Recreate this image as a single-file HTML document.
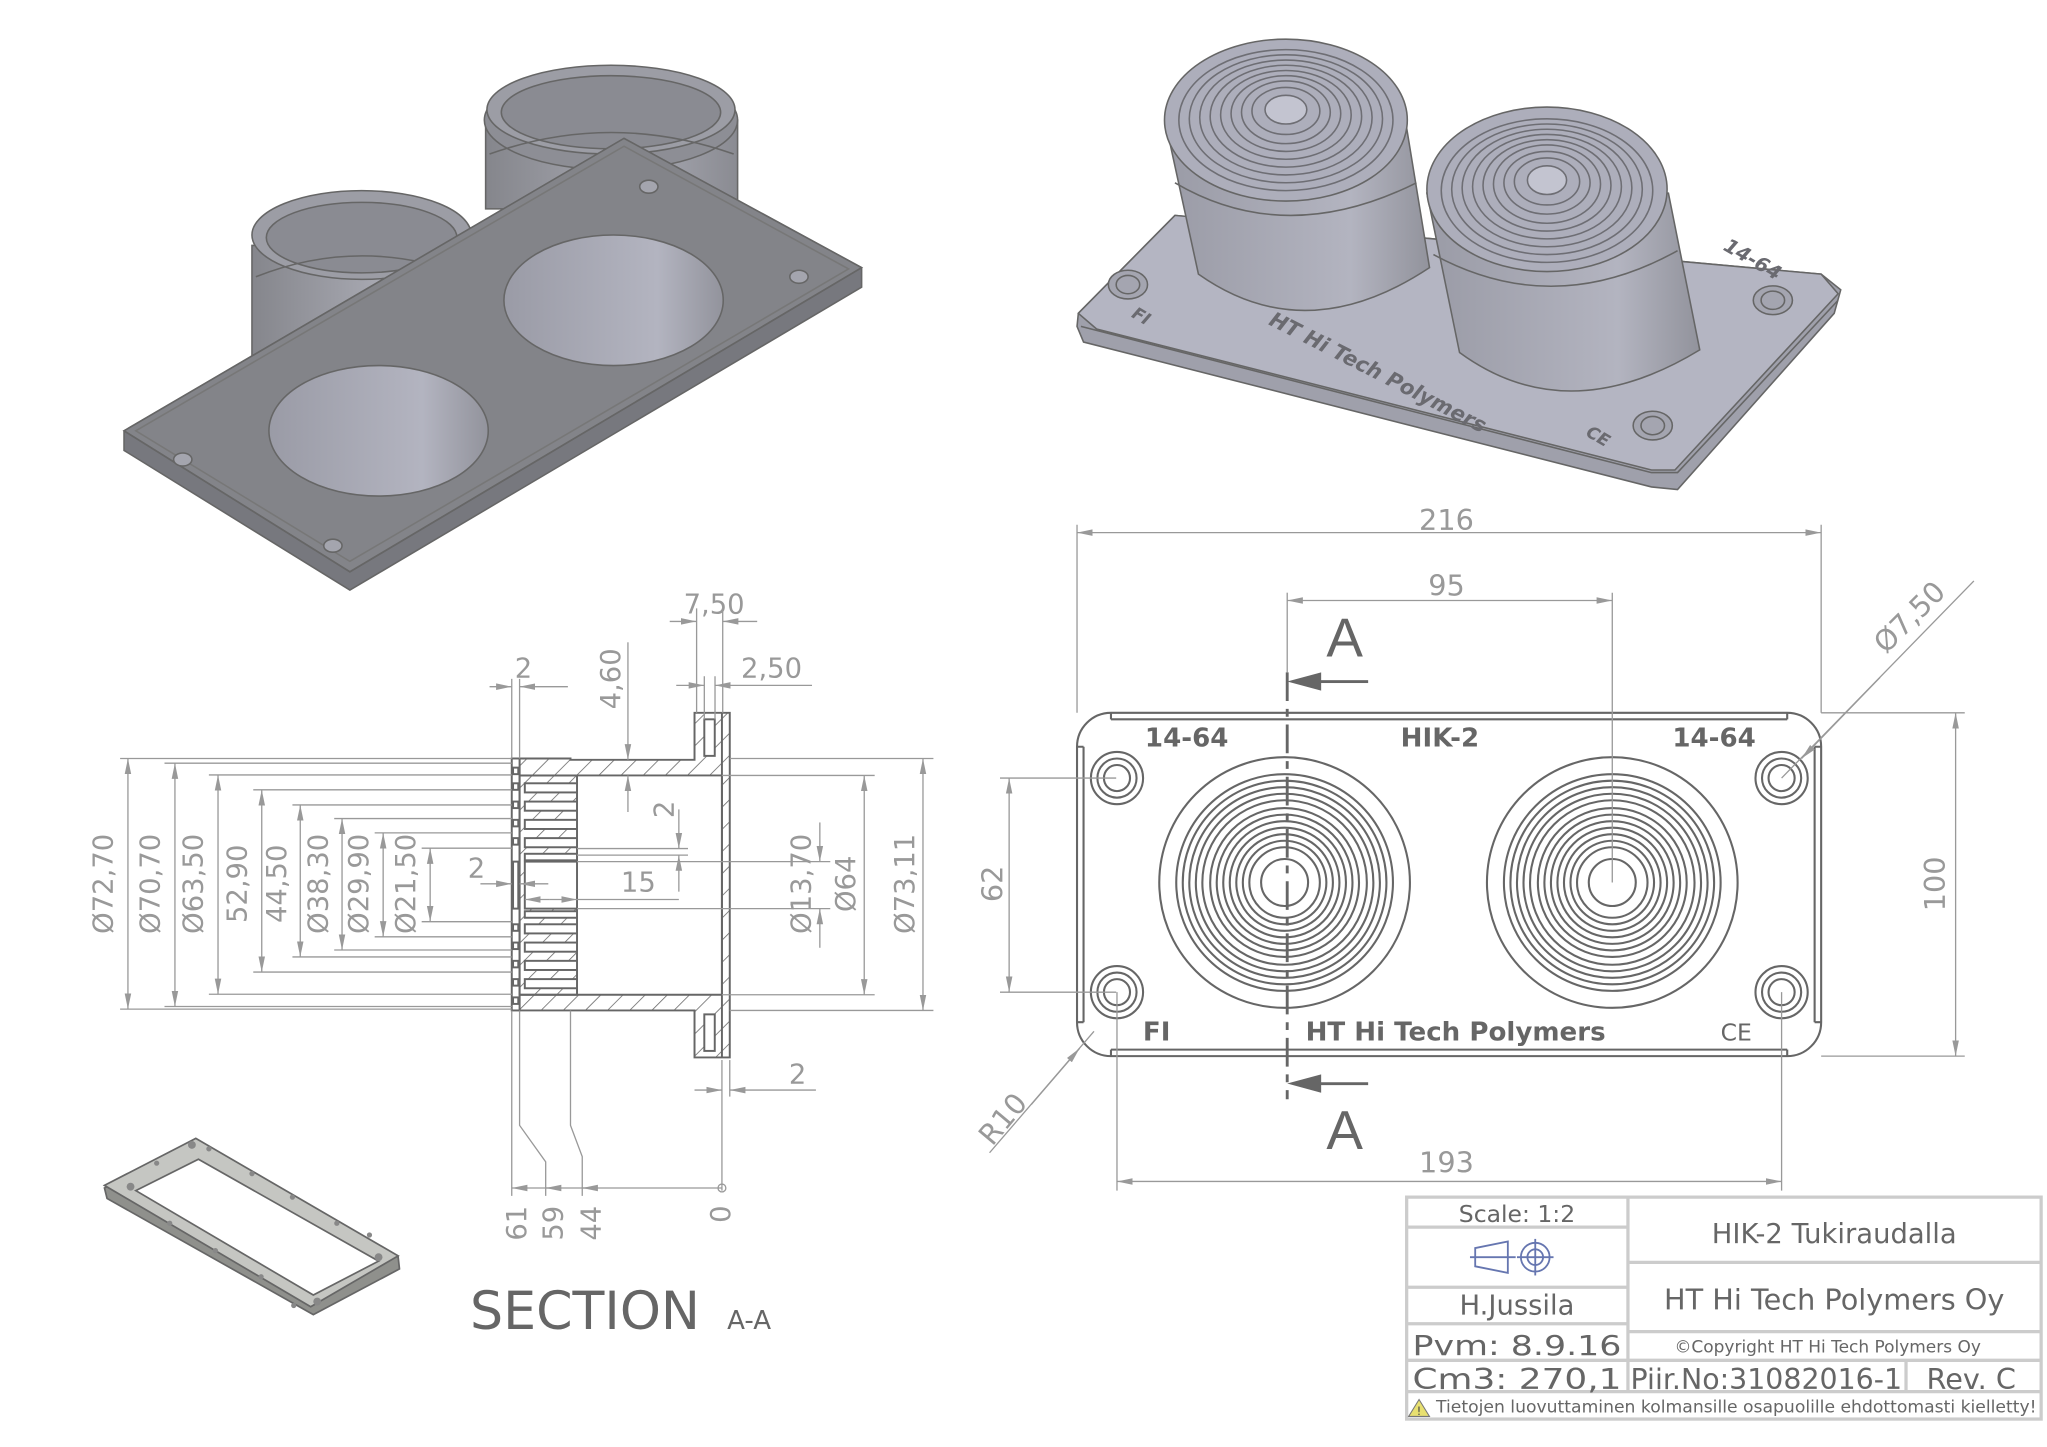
<!DOCTYPE html>
<html><head><meta charset="utf-8"><style>html,body{margin:0;padding:0;background:#fff}svg{display:block}</style></head>
<body>
<svg xmlns="http://www.w3.org/2000/svg" width="2047" height="1447" viewBox="0 0 1568 1108.4" font-family="'DejaVu Sans','Liberation Sans',sans-serif">
<defs>
<marker id="a" viewBox="0 0 12 6" refX="12" refY="3" markerWidth="12" markerHeight="6" markerUnits="userSpaceOnUse" orient="auto-start-reverse"><path d="M0,0.5 L12,3 L0,5.5z" fill="#999"/></marker>
<pattern id="h" width="12" height="12" patternUnits="userSpaceOnUse" patternTransform="rotate(45)"><line x1="0" y1="0" x2="0" y2="12" stroke="#666" stroke-width="1.2"/></pattern>
<linearGradient id="cyl" x1="0" x2="1"><stop offset="0" stop-color="#85868c"/><stop offset="0.6" stop-color="#a9aab3"/><stop offset="1" stop-color="#8a8b92"/></linearGradient>
<linearGradient id="cyl2" x1="0" x2="1"><stop offset="0" stop-color="#9a9ba6"/><stop offset="0.7" stop-color="#b3b4c0"/><stop offset="1" stop-color="#92939c"/></linearGradient>
</defs>

<!-- ========== Top-left 3D ========== -->
<g stroke="#666" stroke-width="1.2">
<path d="M372,92 L372,160 L565,160 L565,92 Z" fill="url(#cyl)"/>
<ellipse cx="468" cy="92" rx="97" ry="38" fill="#8d8e95"/>
<ellipse cx="468" cy="84" rx="95" ry="34" fill="#9c9da5"/>
<ellipse cx="468" cy="86" rx="84" ry="28" fill="#8a8b92"/>
<path d="M375,118 Q468,85 562,118" fill="none"/>
<path d="M193,188 L193,275 L362,275 L362,188 Z" fill="url(#cyl)"/>
<ellipse cx="277" cy="180" rx="84" ry="34" fill="#9c9da5"/>
<ellipse cx="277" cy="182" rx="73" ry="27" fill="#8a8b92"/>
<path d="M196,212 Q277,180 360,212" fill="none"/>
<path d="M95,330 L478,106 L660,205 L660,220 L268,452 L95,345 Z" fill="#77787e"/>
<path d="M95,330 L478,106 L660,205 L268,438 Z" fill="#838489"/>
<path d="M104,330 L478,112 L650,206 L268,430 Z" fill="none" stroke="#777"/>
<path d="M95,330 L268,438 L660,205" fill="none"/>
<ellipse cx="290" cy="330" rx="84" ry="50" fill="url(#cyl2)"/>
<ellipse cx="470" cy="230" rx="84" ry="50" fill="url(#cyl2)"/>
<ellipse cx="140" cy="352" rx="7" ry="5" fill="#a4a5ae"/>
<ellipse cx="255" cy="418" rx="7" ry="5" fill="#a4a5ae"/>
<ellipse cx="497" cy="143" rx="7" ry="5" fill="#a4a5ae"/>
<ellipse cx="612" cy="212" rx="7" ry="5" fill="#a4a5ae"/>
</g>

<!-- ========== Top-right 3D ========== -->
<g stroke="#666" stroke-width="1.2">
<path d="M826,240 L900,165 L1395,210 L1410,222 L1405,240 L1285,375 L1265,373 L830,262 L825,250 Z" fill="#9fa0ab"/>
<path d="M826,240 L900,165 L1395,210 L1408,225 L1283,360 L1265,360 L840,252 Z" fill="#b4b5c2"/>
<path d="M828,250 L1265,362 L1285,362 L1408,230" fill="none"/>
<path d="M893,95 L918,210 Q1000,268 1095,205 L1077,95 Z" fill="url(#cyl2)"/>
<path d="M900,140 Q985,190 1085,140" fill="none"/>
<ellipse cx="985" cy="92" rx="93" ry="62" fill="#adaebb"/>
<g fill="none" stroke="#6e6e74">
<ellipse cx="985" cy="92" rx="82" ry="54"/><ellipse cx="985" cy="91" rx="74" ry="49"/><ellipse cx="985" cy="90" rx="66" ry="44"/><ellipse cx="985" cy="89" rx="58" ry="39"/><ellipse cx="985" cy="88" rx="50" ry="34"/><ellipse cx="985" cy="87" rx="42" ry="29"/><ellipse cx="985" cy="86" rx="34" ry="24"/><ellipse cx="985" cy="85" rx="26" ry="18"/><ellipse cx="985" cy="84" rx="16" ry="11" fill="#c3c4d0"/>
</g>
<path d="M1093,148 L1118,270 Q1200,330 1302,268 L1278,148 Z" fill="url(#cyl2)"/>
<path d="M1098,195 Q1190,245 1285,192" fill="none"/>
<ellipse cx="1185" cy="145" rx="92" ry="63" fill="#adaebb"/>
<g fill="none" stroke="#6e6e74">
<ellipse cx="1185" cy="146" rx="81" ry="55"/><ellipse cx="1185" cy="145" rx="73" ry="50"/><ellipse cx="1185" cy="144" rx="65" ry="45"/><ellipse cx="1185" cy="143" rx="57" ry="40"/><ellipse cx="1185" cy="142" rx="49" ry="35"/><ellipse cx="1185" cy="141" rx="41" ry="30"/><ellipse cx="1185" cy="140" rx="33" ry="24"/><ellipse cx="1185" cy="139" rx="25" ry="18"/><ellipse cx="1185" cy="138" rx="15" ry="11" fill="#c3c4d0"/>
</g>
<g fill="#a4a5b0"><ellipse cx="864" cy="218" rx="15" ry="11"/><ellipse cx="1358" cy="230" rx="15" ry="11"/><ellipse cx="1266" cy="326" rx="15" ry="11"/></g>
<g fill="none"><ellipse cx="864" cy="218" rx="9" ry="7"/><ellipse cx="1358" cy="230" rx="9" ry="7"/><ellipse cx="1266" cy="326" rx="9" ry="7"/></g>
</g>
<g fill="#6a6a70" font-weight="bold" font-style="italic">
<text x="1053" y="290" font-size="16" transform="rotate(27 1053 290)" text-anchor="middle">HT Hi Tech Polymers</text>
<text x="1340" y="203" font-size="15" transform="rotate(30 1340 203)" text-anchor="middle">14-64</text>
<text x="872" y="246" font-size="13" transform="rotate(30 872 246)" text-anchor="middle">FI</text>
<text x="1222" y="338" font-size="13" transform="rotate(30 1222 338)" text-anchor="middle">CE</text>
</g>

<!-- ========== Front view ========== -->
<g stroke="#666" stroke-width="1.6" fill="none">
<rect x="825" y="546" width="570" height="263" rx="26"/>
<path d="M851,551 L1369,551 M851,804 L1369,804 M830,572 L830,783 M1390,572 L1390,783"/>
<path d="M851,546 L851,551 M1369,546 L1369,551 M851,804 L851,809 M1369,804 L1369,809 M825,572 L830,572 M825,783 L830,783 M1390,572 L1395,572 M1390,783 L1395,783"/>
<circle cx="855.6" cy="596" r="20"/><circle cx="855.6" cy="596" r="15"/><circle cx="855.6" cy="596" r="10"/>
<circle cx="855.6" cy="760" r="20"/><circle cx="855.6" cy="760" r="15"/><circle cx="855.6" cy="760" r="10"/>
<circle cx="1364.7" cy="596" r="20"/><circle cx="1364.7" cy="596" r="15"/><circle cx="1364.7" cy="596" r="10"/>
<circle cx="1364.7" cy="760" r="20"/><circle cx="1364.7" cy="760" r="15"/><circle cx="1364.7" cy="760" r="10"/>
<g>
<circle cx="984" cy="676" r="96"/><circle cx="984" cy="676" r="83"/><circle cx="984" cy="676" r="78"/><circle cx="984" cy="676" r="73"/><circle cx="984" cy="676" r="68"/><circle cx="984" cy="676" r="63"/><circle cx="984" cy="676" r="57"/><circle cx="984" cy="676" r="52"/><circle cx="984" cy="676" r="47"/><circle cx="984" cy="676" r="42"/><circle cx="984" cy="676" r="37"/><circle cx="984" cy="676" r="32"/><circle cx="984" cy="676" r="27"/><circle cx="984" cy="676" r="18"/>
</g>
<g transform="translate(251 0)">
<circle cx="984" cy="676" r="96"/><circle cx="984" cy="676" r="83"/><circle cx="984" cy="676" r="78"/><circle cx="984" cy="676" r="73"/><circle cx="984" cy="676" r="68"/><circle cx="984" cy="676" r="63"/><circle cx="984" cy="676" r="57"/><circle cx="984" cy="676" r="52"/><circle cx="984" cy="676" r="47"/><circle cx="984" cy="676" r="42"/><circle cx="984" cy="676" r="37"/><circle cx="984" cy="676" r="32"/><circle cx="984" cy="676" r="27"/><circle cx="984" cy="676" r="18"/>
</g>
<line x1="986" y1="515" x2="986" y2="842" stroke-width="2.2" stroke-dasharray="22,6,6,6"/>
</g>
<g fill="#666">
<path d="M986,522 L1012,515 L1012,529 Z"/><rect x="1010" y="521" width="38" height="2.2"/>
<path d="M986,830 L1012,823 L1012,837 Z"/><rect x="1010" y="829" width="38" height="2.2"/>
<text x="1030" y="503" font-size="42" text-anchor="middle" font-family="'Liberation Sans',sans-serif">A</text>
<text x="1030" y="880" font-size="42" text-anchor="middle" font-family="'Liberation Sans',sans-serif">A</text>
<g font-weight="bold" font-size="20" text-anchor="middle">
<text x="909" y="572">14-64</text><text x="1103" y="572">HIK-2</text><text x="1313" y="572">14-64</text>
<text x="886" y="797">FI</text><text x="1115" y="797">HT Hi Tech Polymers</text><text x="1330" y="797" font-weight="normal" font-size="18">CE</text>
</g>
</g>
<g stroke="#999" stroke-width="1" fill="none">
<line x1="825" y1="402" x2="825" y2="546"/><line x1="1395" y1="402" x2="1395" y2="546"/>
<line x1="825" y1="408" x2="1395" y2="408" marker-start="url(#a)" marker-end="url(#a)"/>
<line x1="986" y1="454" x2="986" y2="515"/><line x1="1235" y1="454" x2="1235" y2="676"/>
<line x1="986" y1="460" x2="1235" y2="460" marker-start="url(#a)" marker-end="url(#a)"/>
<line x1="1395" y1="546" x2="1505" y2="546"/><line x1="1395" y1="809" x2="1505" y2="809"/>
<line x1="1498" y1="546" x2="1498" y2="809" marker-start="url(#a)" marker-end="url(#a)"/>
<line x1="766" y1="596" x2="855" y2="596"/><line x1="766" y1="760" x2="855" y2="760"/>
<line x1="773" y1="596" x2="773" y2="760" marker-start="url(#a)" marker-end="url(#a)"/>
<line x1="855.6" y1="760" x2="855.6" y2="912"/><line x1="1364.7" y1="760" x2="1364.7" y2="912"/>
<line x1="855.6" y1="905" x2="1364.7" y2="905" marker-start="url(#a)" marker-end="url(#a)"/>
<line x1="1512" y1="445" x2="1364.7" y2="596"/>
<line x1="1440" y1="519" x2="1380" y2="581" marker-end="url(#a)"/>
<line x1="758" y1="883" x2="838" y2="790"/>
<line x1="790" y1="846" x2="827" y2="803" marker-end="url(#a)"/>
</g>
<g fill="#999" font-size="22" text-anchor="middle">
<text x="1108" y="406">216</text><text x="1108" y="456">95</text><text x="1108" y="898">193</text>
<text x="1490" y="677" transform="rotate(-90 1490 677)">100</text>
<text x="768" y="677" transform="rotate(-90 768 677)">62</text>
<text x="1468" y="478" transform="rotate(-45 1468 478)">Ø7,50</text>
<text x="774" y="862" transform="rotate(-50 774 862)">R10</text>
</g>

<!-- ========== Section ========== -->
<g stroke="#666" stroke-width="1.5">
<path d="M398,581 L437,581 L437,582 L532,582 L532,546 L559,546 L559,810 L532,810 L532,774 L437,774 L437,774 L398,774 L398,762 L553,762 L553,594 L398,594 Z" fill="url(#h)"/>
<rect x="392" y="581" width="6" height="193" fill="#fff"/>
<rect x="539.5" y="551" width="8" height="28" fill="#fff"/>
<rect x="539.5" y="777" width="8" height="28" fill="#fff"/>
<line x1="553" y1="546" x2="553" y2="810"/>
<rect x="398" y="594" width="44" height="168" fill="url(#h)"/>
<g fill="#fff">
<rect x="402" y="600" width="40" height="7"/><rect x="402" y="614" width="40" height="7"/><rect x="402" y="628" width="40" height="7"/><rect x="402" y="642" width="40" height="7"/><rect x="402" y="654" width="40" height="5"/>
<rect x="402" y="660" width="40" height="36"/>
<rect x="402" y="698" width="40" height="5"/><rect x="402" y="708" width="40" height="7"/><rect x="402" y="722" width="40" height="7"/><rect x="402" y="736" width="40" height="7"/><rect x="402" y="750" width="40" height="7"/>
</g>
<g fill="#fff">
<rect x="393" y="588" width="4" height="5"/><rect x="393" y="600" width="4" height="5"/><rect x="393" y="614" width="4" height="5"/><rect x="393" y="628" width="4" height="5"/><rect x="393" y="642" width="4" height="5"/>
<rect x="393" y="660" width="4" height="36"/>
<rect x="393" y="708" width="4" height="5"/><rect x="393" y="722" width="4" height="5"/><rect x="393" y="736" width="4" height="5"/><rect x="393" y="750" width="4" height="5"/><rect x="393" y="764" width="4" height="5"/>
</g>
</g>
<g stroke="#999" stroke-width="1" fill="none">
<line x1="92" y1="581" x2="392" y2="581"/><line x1="92" y1="773" x2="392" y2="773"/>
<line x1="126" y1="584.6" x2="392" y2="584.6"/><line x1="126" y1="771" x2="392" y2="771"/>
<line x1="160" y1="593.6" x2="392" y2="593.6"/><line x1="160" y1="761.6" x2="392" y2="761.6"/>
<line x1="194" y1="605" x2="392" y2="605"/><line x1="194" y1="744.6" x2="392" y2="744.6"/>
<line x1="224" y1="616.6" x2="392" y2="616.6"/><line x1="224" y1="733" x2="392" y2="733"/>
<line x1="256" y1="627" x2="392" y2="627"/><line x1="256" y1="727.7" x2="392" y2="727.7"/>
<line x1="287" y1="638" x2="392" y2="638"/><line x1="287" y1="717.6" x2="392" y2="717.6"/>
<line x1="323" y1="649.7" x2="392" y2="649.7"/><line x1="323" y1="706" x2="392" y2="706"/>
<line x1="98" y1="581" x2="98" y2="773" marker-start="url(#a)" marker-end="url(#a)"/>
<line x1="134" y1="584.6" x2="134" y2="771" marker-start="url(#a)" marker-end="url(#a)"/>
<line x1="167" y1="593.6" x2="167" y2="761.6" marker-start="url(#a)" marker-end="url(#a)"/>
<line x1="200.5" y1="605" x2="200.5" y2="744.6" marker-start="url(#a)" marker-end="url(#a)"/>
<line x1="230" y1="616.6" x2="230" y2="733" marker-start="url(#a)" marker-end="url(#a)"/>
<line x1="262" y1="627" x2="262" y2="727.7" marker-start="url(#a)" marker-end="url(#a)"/>
<line x1="293.5" y1="638" x2="293.5" y2="717.6" marker-start="url(#a)" marker-end="url(#a)"/>
<line x1="329.5" y1="649.7" x2="329.5" y2="706" marker-start="url(#a)" marker-end="url(#a)"/>
<line x1="559" y1="581" x2="715" y2="581"/><line x1="559" y1="774" x2="715" y2="774"/>
<line x1="553" y1="594" x2="670" y2="594"/><line x1="553" y1="762" x2="670" y2="762"/>
<line x1="442" y1="660" x2="636" y2="660"/><line x1="442" y1="696" x2="636" y2="696"/>
<line x1="707" y1="581" x2="707" y2="774" marker-start="url(#a)" marker-end="url(#a)"/>
<line x1="662" y1="594" x2="662" y2="762" marker-start="url(#a)" marker-end="url(#a)"/>
<line x1="628" y1="630" x2="628" y2="660" marker-end="url(#a)"/>
<line x1="628" y1="726" x2="628" y2="696" marker-end="url(#a)"/>
<line x1="533.6" y1="466" x2="533.6" y2="546"/><line x1="553.6" y1="466" x2="553.6" y2="546"/>
<line x1="513" y1="476" x2="533.6" y2="476" marker-end="url(#a)"/><line x1="580" y1="476" x2="553.6" y2="476" marker-end="url(#a)"/>
<line x1="539.5" y1="518" x2="539.5" y2="551"/><line x1="547.7" y1="518" x2="547.7" y2="551"/>
<line x1="518" y1="525" x2="539.5" y2="525" marker-end="url(#a)"/><line x1="622" y1="525" x2="547.7" y2="525" marker-end="url(#a)"/>
<line x1="481" y1="492" x2="481" y2="582" marker-end="url(#a)"/><line x1="481" y1="622" x2="481" y2="594" marker-end="url(#a)"/>
<line x1="392" y1="520" x2="392" y2="581"/><line x1="398" y1="520" x2="398" y2="581"/>
<line x1="375" y1="526" x2="392" y2="526" marker-end="url(#a)"/><line x1="435" y1="526" x2="398" y2="526" marker-end="url(#a)"/>
<line x1="442" y1="650" x2="527" y2="650"/><line x1="442" y1="655" x2="527" y2="655"/>
<line x1="520" y1="620" x2="520" y2="650" marker-end="url(#a)"/><line x1="520" y1="683" x2="520" y2="655" marker-end="url(#a)"/>
<line x1="368" y1="677" x2="392" y2="677" marker-end="url(#a)"/><line x1="420" y1="677" x2="398" y2="677" marker-end="url(#a)"/>
<line x1="421" y1="689" x2="402" y2="689" marker-end="url(#a)"/><line x1="421" y1="689" x2="442" y2="689" marker-end="url(#a)"/><line x1="442" y1="689" x2="520" y2="689"/>
<line x1="553" y1="812" x2="553" y2="912"/><line x1="559" y1="812" x2="559" y2="840"/>
<line x1="532" y1="835" x2="553" y2="835" marker-end="url(#a)"/><line x1="625" y1="835" x2="559" y2="835" marker-end="url(#a)"/>
<line x1="392" y1="774" x2="392" y2="916"/>
<polyline points="398,774 398,862 418,890 418,916"/>
<polyline points="437,774 437,862 446,886 446,916"/>
<line x1="553" y1="910" x2="392" y2="910" marker-end="url(#a)"/>
<line x1="430" y1="910" x2="418" y2="910" marker-end="url(#a)"/>
<line x1="458" y1="910" x2="446" y2="910" marker-end="url(#a)"/>
<circle cx="553" cy="910" r="3"/>
</g>
<g fill="#999" font-size="21" text-anchor="middle">
<text x="86" y="677" transform="rotate(-90 86 677)">Ø72,70</text>
<text x="122" y="677" transform="rotate(-90 122 677)">Ø70,70</text>
<text x="155" y="677" transform="rotate(-90 155 677)">Ø63,50</text>
<text x="189" y="677" transform="rotate(-90 189 677)">52,90</text>
<text x="219" y="677" transform="rotate(-90 219 677)">44,50</text>
<text x="251" y="677" transform="rotate(-90 251 677)">Ø38,30</text>
<text x="282" y="677" transform="rotate(-90 282 677)">Ø29,90</text>
<text x="318" y="677" transform="rotate(-90 318 677)">Ø21,50</text>
<text x="621" y="677" transform="rotate(-90 621 677)">Ø13,70</text>
<text x="655" y="677" transform="rotate(-90 655 677)">Ø64</text>
<text x="700" y="677" transform="rotate(-90 700 677)">Ø73,11</text>
<text x="547" y="470">7,50</text>
<text x="591" y="519">2,50</text>
<text x="475" y="520" transform="rotate(-90 475 520)">4,60</text>
<text x="401" y="519">2</text>
<text x="516" y="620" transform="rotate(-90 516 620)">2</text>
<text x="365" y="672">2</text>
<text x="489" y="683">15</text>
<text x="611" y="830">2</text>
<text x="403" y="937" transform="rotate(-90 403 937)">61</text>
<text x="431" y="937" transform="rotate(-90 431 937)">59</text>
<text x="460" y="937" transform="rotate(-90 460 937)">44</text>
<text x="559" y="930" transform="rotate(-90 559 930)">0</text>
</g>
<text x="360" y="1018" font-size="40" fill="#666">SECTION</text>
<text x="557" y="1018" font-size="20" fill="#666">A-A</text>

<!-- ========== Gasket ========== -->
<g stroke="#666" stroke-width="1.3">
<path d="M80,910 L150,874 L305,963 L306,972 L240,1007 L82,918 Z" fill="#8f908c"/>
<path d="M80,908 L150,872 L305,962 L238,1001 Z" fill="#c5c6c2"/>
<path d="M104,912 L152,888 L290,966 L240,992 Z" fill="#fff"/>
<g fill="#888" stroke="none">
<circle cx="100" cy="909" r="3"/><circle cx="147" cy="877" r="3"/><circle cx="290" cy="963" r="3"/><circle cx="243" cy="997" r="3"/>
<circle cx="160" cy="880" r="2"/><circle cx="193" cy="899" r="2"/><circle cx="224" cy="917" r="2"/><circle cx="258" cy="937" r="2"/>
<circle cx="130" cy="937" r="2"/><circle cx="165" cy="958" r="2"/><circle cx="200" cy="978" r="2"/><circle cx="120" cy="891" r="2"/><circle cx="283" cy="946" r="2"/><circle cx="225" cy="1000" r="2"/>
</g>
</g>

<!-- ========== Title block ========== -->
<g stroke="#ccc" stroke-width="2.5" fill="none">
<rect x="1077.5" y="917" width="486" height="170"/>
<line x1="1247" y1="917" x2="1247" y2="1067"/>
<line x1="1077.5" y1="940" x2="1247" y2="940"/>
<line x1="1077.5" y1="986" x2="1247" y2="986"/>
<line x1="1077.5" y1="1014" x2="1247" y2="1014"/>
<line x1="1077.5" y1="1042" x2="1563.5" y2="1042"/>
<line x1="1077.5" y1="1066" x2="1563.5" y2="1066"/>
<line x1="1247" y1="967" x2="1563.5" y2="967"/>
<line x1="1247" y1="1020" x2="1563.5" y2="1020"/>
<line x1="1460" y1="1042" x2="1460" y2="1066"/>
</g>
<g stroke="#6676b0" stroke-width="1.4" fill="none">
<path d="M1130,956 L1155,951 L1155,975 L1130,970 Z"/>
<line x1="1126" y1="963" x2="1161" y2="963"/>
<circle cx="1176" cy="963" r="11"/><circle cx="1176" cy="963" r="6"/>
<line x1="1162" y1="963" x2="1190" y2="963"/><line x1="1176" y1="949" x2="1176" y2="977"/>
</g>
<g fill="#666" text-anchor="middle">
<text x="1162" y="936" font-size="18">Scale: 1:2</text>
<text x="1162" y="1007" font-size="21">H.Jussila</text>
<text x="1162" y="1038" font-size="21" textLength="160" lengthAdjust="spacingAndGlyphs">Pvm: 8.9.16</text>
<text x="1162" y="1064" font-size="22" textLength="160" lengthAdjust="spacingAndGlyphs">Cm3: 270,1</text>
<text x="1405" y="952" font-size="21">HIK-2 Tukiraudalla</text>
<text x="1405" y="1003" font-size="22">HT Hi Tech Polymers Oy</text>
<text x="1400" y="1036" font-size="13">©Copyright HT Hi Tech Polymers Oy</text>
<text x="1353" y="1064" font-size="22" textLength="208" lengthAdjust="spacingAndGlyphs">Piir.No:31082016-1</text>
<text x="1510" y="1064" font-size="22">Rev. C</text>
<text x="1330" y="1082" font-size="13" textLength="460" lengthAdjust="spacingAndGlyphs">Tietojen luovuttaminen kolmansille osapuolille ehdottomasti kielletty!</text>
</g>
<path d="M1087,1072 L1095,1085 L1079,1085 Z" fill="#e8e070" stroke="#777" stroke-width="0.8"/>
<text x="1087" y="1084" font-size="9" fill="#444" text-anchor="middle">!</text>
</svg>
</body></html>
